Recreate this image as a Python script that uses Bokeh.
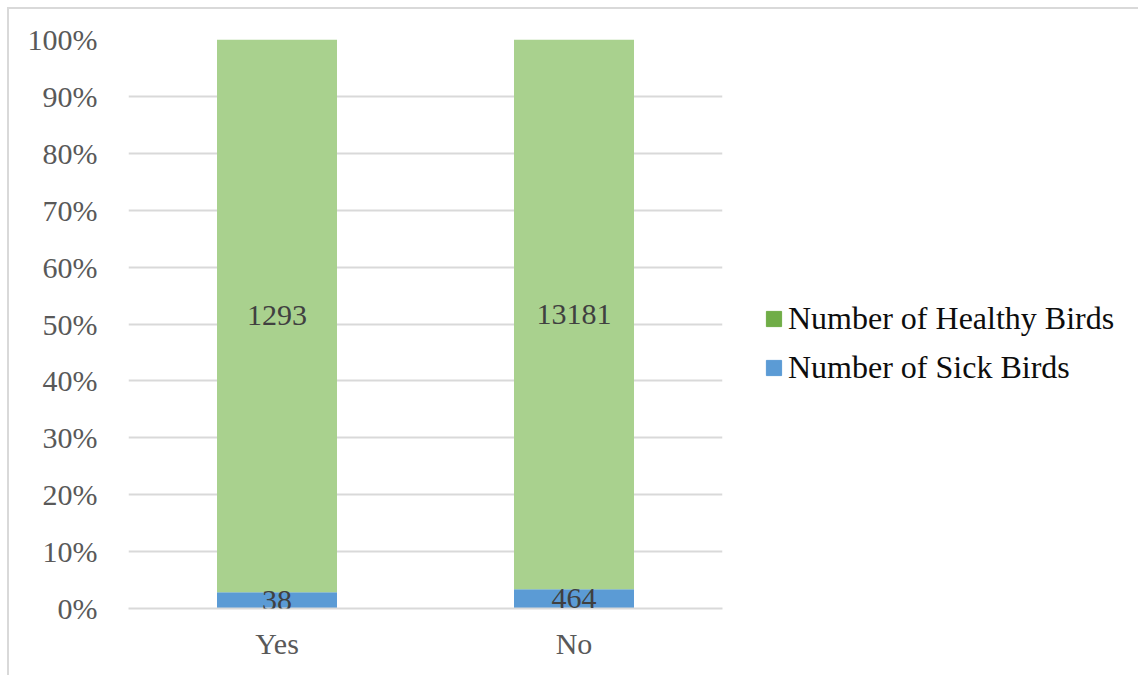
from bokeh.plotting import figure
from bokeh.models import (ColumnDataSource, FactorRange, Range1d, LabelSet,
                          Legend, LegendItem, NumeralTickFormatter, FixedTicker)
from bokeh.embed import file_html
from bokeh.resources import INLINE

# Survey answer groups and bird counts
groups = ["Yes", "No"]
sick_birds = [38, 464]
healthy_birds = [1293, 13181]
series_names = ["Number of Healthy Birds", "Number of Sick Birds"]
y_ticks = [0, 0.1, 0.2, 0.3, 0.4, 0.5, 0.6, 0.7, 0.8, 0.9, 1.0]

FONT = "Liberation Serif"
SICK_BAR = "#5B9BD5"
HEALTHY_BAR = "#A9D18E"
SICK_KEY = "#5B9BD5"
HEALTHY_KEY = "#70AD47"

# Each column is normalised to 100 %
totals = [s + h for s, h in zip(sick_birds, healthy_birds)]
sick_share = [s / t for s, t in zip(sick_birds, totals)]
healthy_share = [h / t for h, t in zip(healthy_birds, totals)]

src = ColumnDataSource(dict(
    group=groups,
    sick=sick_share,
    healthy=healthy_share,
    sick_mid=[s / 2 for s in sick_share],
    healthy_mid=[s + h / 2 for s, h in zip(sick_share, healthy_share)],
    sick_txt=[str(v) for v in sick_birds],
    healthy_txt=[str(v) for v in healthy_birds],
))

p = figure(
    x_range=FactorRange(*groups, range_padding=0),
    y_range=Range1d(0, 1),
    frame_width=594, frame_height=569,
    min_border_left=119, min_border_right=0,
    min_border_top=30, min_border_bottom=67,
    output_backend="svg", toolbar_location=None,
)
p.margin = (7, 0, 0, 7)
p.styles = {"border-top": "2px solid #D9D9D9", "border-left": "2px solid #D9D9D9"}

p.outline_line_color = None
p.background_fill_color = "white"
p.border_fill_color = "white"

stack = p.vbar_stack(["sick", "healthy"], x="group", width=0.404, source=src,
                     color=[SICK_BAR, HEALTHY_BAR], line_color=None)

# Value labels centred inside each segment
for ycol, tcol in (("sick_mid", "sick_txt"), ("healthy_mid", "healthy_txt")):
    p.add_layout(LabelSet(x="group", y=ycol, text=tcol, source=src,
                          text_align="center", text_baseline="middle",
                          text_font=FONT, text_font_size="30px",
                          text_color="#404040"))

# Axes
p.yaxis.ticker = FixedTicker(ticks=y_ticks)
p.yaxis.formatter = NumeralTickFormatter(format="0%")
for ax in (p.xaxis[0], p.yaxis[0]):
    ax.major_label_text_font = FONT
    ax.major_label_text_font_size = "30px"
    ax.major_label_text_color = "#595959"
    ax.major_tick_line_color = None
    ax.minor_tick_line_color = None
p.yaxis.axis_line_color = None
p.yaxis.major_label_standoff = 25
p.xaxis.axis_line_color = "#D9D9D9"
p.xaxis.axis_line_width = 2
p.xaxis.major_label_standoff = 12

p.xgrid.grid_line_color = None
p.ygrid.grid_line_color = "#D9D9D9"
p.ygrid.grid_line_width = 2

# Legend keys use the darker series colours; their bars sit below the
# visible y range so only the legend swatches show
key_src = ColumnDataSource(dict(x=[groups[0]], top=[-1.0], bottom=[-2.0]))
k_healthy = p.vbar(x="x", top="top", bottom="bottom", width=0.1,
                   source=key_src, color=HEALTHY_KEY)
k_sick = p.vbar(x="x", top="top", bottom="bottom", width=0.1,
                source=key_src, color=SICK_KEY)
legend = Legend(
    items=[LegendItem(label=series_names[0], renderers=[k_healthy]),
           LegendItem(label=series_names[1], renderers=[k_sick])],
    location=(42, 222),
    orientation="vertical",
    label_text_font=FONT, label_text_font_size="32px",
    label_text_color="#0d0d0d",
    glyph_width=19, glyph_height=19, label_standoff=5,
    spacing=12, padding=0, margin=0,
    border_line_color=None, background_fill_alpha=0,
)
p.add_layout(legend, "right")

open("out.html", "w").write(file_html(p, INLINE))
